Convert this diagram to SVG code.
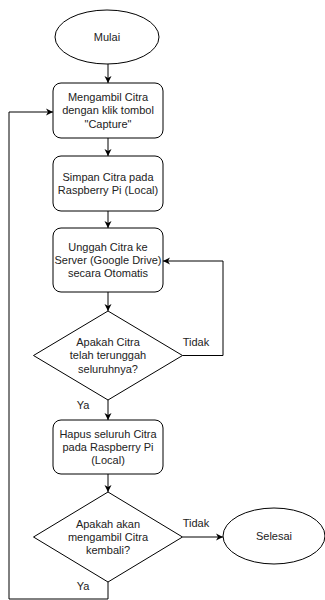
<svg xmlns="http://www.w3.org/2000/svg" width="325" height="600" viewBox="0 0 325 600">
<style>
.s{fill:#fff;stroke:#000;stroke-width:1}
.t{font-family:"Liberation Sans",Arial,sans-serif;font-size:11px;fill:#222;text-anchor:middle}
.e{fill:none;stroke:#000;stroke-width:1}
</style>
<defs>
<marker id="a" markerWidth="8" markerHeight="8" refX="7" refY="4" orient="auto" markerUnits="userSpaceOnUse">
<path d="M0,0.5 L7,4 L0,7.5 L2,4 Z" fill="#000"/>
</marker>
</defs>
<rect width="325" height="600" fill="#fff"/>
<g id="connectors">
<path class="e" d="M108,64 V83" marker-end="url(#a)"/>
<path class="e" d="M108,138 V156" marker-end="url(#a)"/>
<path class="e" d="M108,211 V228" marker-end="url(#a)"/>
<path class="e" d="M108,292 V311" marker-end="url(#a)"/>
<path class="e" d="M108,400 V420" marker-end="url(#a)"/>
<path class="e" d="M108,474 V492" marker-end="url(#a)"/>
<path class="e" d="M182.5,537 H223" marker-end="url(#a)"/>
<path class="e" d="M182.5,355.5 H223 V261 H163" marker-end="url(#a)"/>
<path class="e" d="M108,582 V599 H9 V112 H53" marker-end="url(#a)"/>
<text class="t" x="196" y="346">Tidak</text>
<text class="t" x="83" y="409">Ya</text>
<text class="t" x="196" y="527">Tidak</text>
<text class="t" x="83" y="590">Ya</text>
</g>
<g id="mulai">
<ellipse class="s" cx="107" cy="37" rx="52" ry="27"/>
<text class="t" x="107" y="41">Mulai</text>
</g>
<g id="ambil">
<rect class="s" x="53" y="83" width="110" height="55" rx="8"/>
<text class="t" x="108" y="101.2">Mengambil Citra</text>
<text class="t" x="108" y="114.4">dengan klik tombol</text>
<text class="t" x="108" y="127.6">"Capture"</text>
</g>
<g id="simpan">
<rect class="s" x="53" y="156" width="110" height="55" rx="8"/>
<text class="t" x="108" y="180.8">Simpan Citra pada</text>
<text class="t" x="108" y="194">Raspberry Pi (Local)</text>
</g>
<g id="unggah">
<rect class="s" x="53" y="228" width="110" height="64" rx="8"/>
<text class="t" x="108" y="250.8">Unggah Citra ke</text>
<text class="t" x="108" y="264">Server (Google Drive)</text>
<text class="t" x="108" y="277.2">secara Otomatis</text>
</g>
<g id="cek1">
<polygon class="s" points="108,311 182.5,355.5 108,400 33.5,355.5"/>
<text class="t" x="108" y="346.2">Apakah Citra</text>
<text class="t" x="108" y="359.4">telah terunggah</text>
<text class="t" x="108" y="372.6">seluruhnya?</text>
</g>
<g id="hapus">
<rect class="s" x="53" y="420" width="110" height="54" rx="8"/>
<text class="t" x="108" y="437.7">Hapus seluruh Citra</text>
<text class="t" x="108" y="450.9">pada Raspberry Pi</text>
<text class="t" x="108" y="464.1">(Local)</text>
</g>
<g id="cek2">
<polygon class="s" points="108,492 182.5,537 108,582 33.5,537"/>
<text class="t" x="108" y="527.7">Apakah akan</text>
<text class="t" x="108" y="540.9">mengambil Citra</text>
<text class="t" x="108" y="554.1">kembali?</text>
</g>
<g id="selesai">
<ellipse class="s" cx="274" cy="536" rx="51" ry="28"/>
<text class="t" x="274" y="540">Selesai</text>
</g>
</svg>
